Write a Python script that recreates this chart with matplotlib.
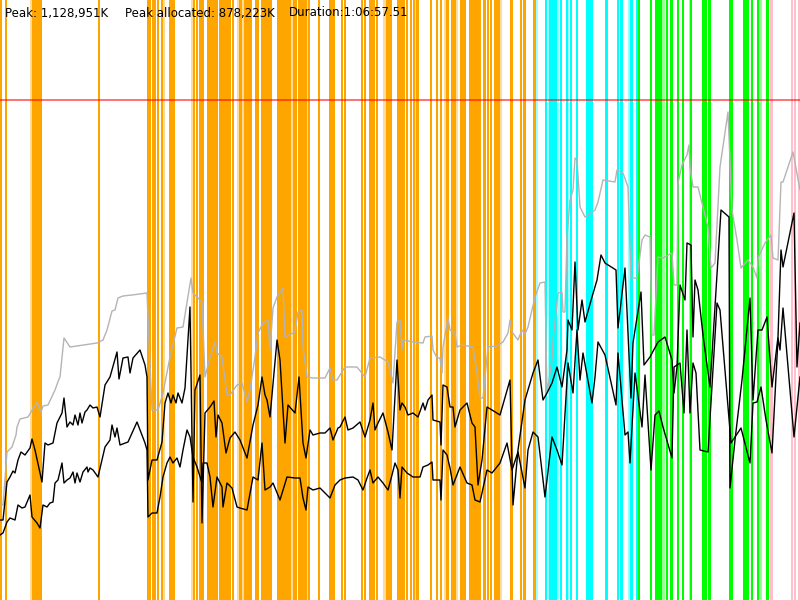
import math
import matplotlib
matplotlib.use("Agg")
import matplotlib.pyplot as plt

# memory timeline, x = time slot, y = screen level (0 top, 600 bottom)
gray_x = [0, 3, 7, 12, 16, 17, 20, 28, 31, 37, 41, 43, 48, 55, 59, 60, 64, 70, 97, 103, 107, 112, 115, 118, 123, 132,
          147, 152, 158, 163, 170, 177, 183, 191, 193, 202, 205, 210, 215, 217, 222, 227, 230, 237, 242, 247, 250,
          255, 258, 263, 268, 270, 273, 277, 283, 285, 295, 298, 302, 303, 307, 313, 325, 330, 333, 337, 345, 357,
          365, 370, 380, 388, 393, 397, 400, 402, 403, 413, 423, 425, 432, 433, 437, 440, 442, 443, 448, 450, 455,
          457, 462, 473, 477, 480, 483, 488, 497, 503, 508, 510, 512, 518, 522, 525, 528, 535, 540, 545, 547, 552,
          553, 558, 562, 563, 565, 567, 570, 573, 575, 577, 580, 585, 595, 598, 603, 615, 617, 623, 628, 631, 637,
          642, 645, 650, 652, 654, 658, 663, 672, 674, 677, 678, 682, 687, 689, 690, 693, 698, 708, 711, 715, 720,
          728, 732, 737, 741, 748, 753, 757, 758, 765, 771, 773, 778, 781, 783, 793, 800]
gray_y = [505, 505, 452, 447, 435, 427, 419, 417, 412, 402, 412, 406, 405, 390, 379, 377, 338, 347, 343, 340, 330, 311,
          310, 298, 296, 295, 293, 410, 410, 393, 357, 328, 327, 278, 293, 302, 377, 357, 342, 353, 357, 395, 395,
          385, 383, 402, 390, 357, 333, 323, 320, 350, 308, 297, 288, 337, 332, 312, 310, 347, 377, 378, 378, 368,
          380, 380, 367, 367, 377, 358, 357, 362, 383, 322, 320, 350, 340, 342, 343, 337, 336, 350, 358, 358, 373,
          347, 318, 330, 333, 347, 345, 347, 373, 398, 398, 347, 346, 342, 333, 320, 332, 340, 330, 334, 327, 297,
          283, 282, 393, 360, 340, 293, 292, 312, 312, 237, 200, 190, 158, 160, 207, 217, 210, 202, 180, 182, 170,
          173, 187, 278, 278, 240, 235, 237, 335, 335, 257, 258, 253, 285, 285, 183, 165, 155, 145, 167, 187, 187,
          227, 268, 263, 167, 112, 210, 240, 268, 260, 267, 278, 258, 243, 235, 258, 260, 182, 182, 152, 190]

upper_x = [0, 3, 7, 10, 13, 15, 18, 21, 25, 30, 32, 35, 42, 45, 48, 53, 57, 62, 64, 67, 70, 73, 75, 78, 80, 82, 85, 87,
           90, 93, 97, 100, 105, 110, 117, 119, 123, 128, 130, 133, 140, 145, 147, 148, 152, 157, 162, 165, 168, 171,
           173, 176, 178, 182, 185, 190, 193, 195, 200, 202, 205, 210, 214, 216, 218, 222, 226, 230, 235, 240, 247,
           253, 258, 262, 265, 267, 270, 277, 280, 285, 288, 295, 299, 303, 306, 310, 313, 320, 325, 330, 333, 338,
           340, 345, 348, 353, 360, 365, 370, 373, 375, 378, 383, 388, 392, 397, 400, 402, 405, 408, 413, 418, 423,
           425, 428, 432, 433, 440, 441, 443, 447, 450, 453, 455, 460, 467, 472, 475, 478, 482, 487, 492, 500, 510,
           513, 518, 525, 533, 538, 543, 547, 552, 557, 562, 567, 568, 572, 575, 578, 582, 585, 592, 597, 601, 605,
           616, 618, 625, 631, 633, 641, 644, 650, 658, 665, 672, 674, 677, 680, 685, 687, 691, 693, 695, 698, 703,
           710, 721, 729, 730, 735, 742, 750, 753, 758, 762, 767, 772, 778, 781, 783, 794, 797, 800]
upper_y = [520, 520, 482, 477, 471, 473, 460, 452, 455, 448, 439, 450, 482, 443, 445, 443, 423, 413, 398, 427, 422, 425,
           415, 425, 413, 423, 412, 410, 405, 408, 407, 417, 385, 377, 352, 379, 358, 357, 373, 358, 350, 365, 377,
           480, 460, 460, 442, 403, 393, 403, 395, 403, 393, 403, 388, 307, 502, 390, 375, 523, 413, 407, 401, 437,
           415, 423, 453, 438, 432, 440, 458, 425, 405, 377, 395, 400, 417, 340, 360, 443, 405, 413, 377, 443, 458,
           430, 435, 433, 433, 428, 440, 428, 427, 417, 430, 428, 422, 437, 420, 403, 430, 423, 413, 432, 450, 360,
           410, 403, 407, 415, 413, 417, 403, 410, 400, 395, 420, 422, 445, 385, 387, 407, 407, 427, 410, 403, 423,
           427, 485, 460, 407, 410, 415, 380, 505, 450, 400, 373, 360, 400, 393, 383, 367, 387, 350, 320, 330, 262,
           330, 300, 322, 297, 280, 255, 263, 270, 328, 268, 398, 343, 292, 365, 357, 342, 337, 360, 393, 367, 285,
           300, 243, 245, 337, 280, 290, 335, 387, 210, 217, 488, 440, 380, 298, 400, 330, 330, 317, 387, 337, 250,
           267, 213, 367, 323]

lower_x = [0, 3, 7, 10, 15, 18, 22, 25, 30, 32, 37, 40, 43, 47, 50, 53, 55, 58, 62, 64, 67, 70, 73, 75, 77, 80, 83, 87,
           88, 90, 93, 98, 105, 110, 112, 115, 117, 120, 128, 137, 145, 147, 148, 152, 157, 160, 163, 167, 170, 173,
           177, 180, 183, 187, 190, 193, 197, 202, 203, 207, 210, 213, 217, 222, 223, 227, 232, 237, 240, 247, 253,
           258, 262, 265, 270, 273, 280, 287, 295, 300, 303, 306, 308, 313, 320, 330, 335, 340, 345, 353, 358, 363,
           367, 370, 373, 378, 383, 388, 392, 395, 398, 400, 402, 407, 413, 420, 423, 428, 432, 433, 440, 441, 443,
           447, 450, 453, 460, 467, 472, 475, 480, 487, 492, 500, 507, 512, 518, 525, 528, 533, 538, 545, 552, 557,
           562, 568, 573, 577, 580, 583, 592, 595, 598, 605, 616, 618, 625, 628, 630, 635, 642, 645, 651, 655, 659,
           663, 672, 674, 680, 684, 687, 690, 693, 696, 700, 708, 717, 720, 731, 741, 750, 753, 757, 761, 766, 772,
           778, 780, 783, 794, 800]
lower_y = [535, 533, 522, 518, 520, 505, 508, 507, 495, 517, 523, 528, 505, 507, 503, 502, 483, 480, 463, 483, 480, 478,
           472, 483, 473, 482, 472, 467, 472, 468, 470, 477, 447, 440, 425, 437, 428, 445, 442, 422, 443, 450, 517,
           513, 513, 497, 477, 463, 457, 463, 458, 467, 450, 430, 437, 457, 467, 483, 463, 463, 477, 507, 477, 487,
           507, 483, 488, 507, 508, 510, 477, 480, 443, 490, 487, 483, 500, 477, 478, 478, 498, 510, 487, 490, 488,
           498, 485, 480, 478, 477, 480, 490, 478, 470, 483, 477, 483, 490, 475, 463, 470, 498, 467, 473, 477, 477,
           467, 465, 462, 480, 480, 500, 450, 455, 468, 485, 467, 483, 485, 500, 502, 470, 473, 463, 443, 470, 452,
           488, 450, 432, 437, 497, 437, 450, 465, 363, 393, 330, 380, 353, 403, 377, 342, 355, 405, 353, 435, 432,
           463, 373, 427, 375, 470, 415, 411, 427, 458, 367, 363, 413, 330, 413, 363, 373, 450, 452, 303, 310, 443,
           428, 463, 403, 402, 387, 420, 453, 338, 350, 308, 437, 377]

# phase bands (start, end)
orange = [(0, 1), (5.7, 6.7), (32, 35), (35.3, 38.8), (39.1, 42), (98, 99), (147, 151), (152, 156), (157, 159),
          (161, 163), (169, 175), (193, 195), (196, 197), (199, 200), (201, 204), (207, 218), (219, 231), (232, 233),
          (239, 242), (244, 252), (255, 259), (261, 272), (277, 291), (293, 297), (298, 307), (308, 309), (318, 320),
          (329, 335), (341, 343), (344, 345), (361, 362), (364, 365), (369, 375), (376, 377), (386, 392), (397, 405),
          (406, 407), (410, 411), (413, 414), (416, 419), (430, 431), (436, 437), (440, 441), (446, 449), (451, 456),
          (460, 466), (469, 481), (483, 486), (487, 489), (490, 492), (494, 500), (510, 513), (520, 522), (523, 526),
          (533, 536)]
orange_light = [(30, 32), (163, 164), (191, 193), (237, 239), (242, 244), (291, 292), (307, 308), (383, 386),
                (414, 416), (444, 446), (456, 457), (500, 501)]
cyan = [(545, 546), (549, 557), (560, 561), (566, 567), (570, 572), (576, 577), (586, 593), (605, 608), (617, 619),
        (620, 623), (630, 633), (636, 637)]
cyan_light = [(536, 538), (548, 549), (557, 558), (567, 569), (628, 629)]
green = [(638, 640), (650, 652), (655, 662), (666, 668), (670, 673), (677, 679), (682, 684), (690, 691), (702, 707),
         (708, 711), (729, 733), (743, 744), (745, 749), (751, 752), (757, 759), (766, 769)]
green_light = [(662, 665), (689, 690), (759, 762)]
pink = [(770, 773), (791, 793), (794, 795), (798, 799)]

peak_level = 100

fig = plt.figure(figsize=(8, 6), dpi=100)
ax = fig.add_axes([0, 0, 1, 1])

for spans, col, a in [(orange, '#FFA500', 1), (orange_light, '#FFA500', 0.4),
                      (cyan, '#00FFFF', 1), (cyan_light, '#00FFFF', 0.4),
                      (green, '#00FF00', 1), (green_light, '#00FF00', 0.4),
                      (pink, '#FFC0CB', 1)]:
    for s, e in spans:
        # snap to whole pixels so thin bands stay solid
        s = math.floor(s)
        e = max(math.ceil(e), s + 2)
        ax.axvspan(s, e, color=col, alpha=a, lw=0, antialiased=False)

ax.axhline(peak_level, color='red', alpha=0.6, lw=1.3)

ax.plot(gray_x, gray_y, color='#b4b4b4', lw=1)
ax.plot(upper_x, upper_y, color='black', lw=1)
ax.plot(lower_x, lower_y, color='black', lw=1)

ax.set_xlim(0, 800)
ax.set_ylim(600, 0)
ax.axis('off')

ax.text(5, 13, 'Peak: 1,128,951K', fontsize=8.5, va='center')
ax.text(125, 13, 'Peak allocated: 878,223K', fontsize=8.5, va='center')
ax.text(289, 13, 'Duration:1:06:57.51', fontsize=8.5, va='center')

fig.savefig('out.png', dpi=100)
